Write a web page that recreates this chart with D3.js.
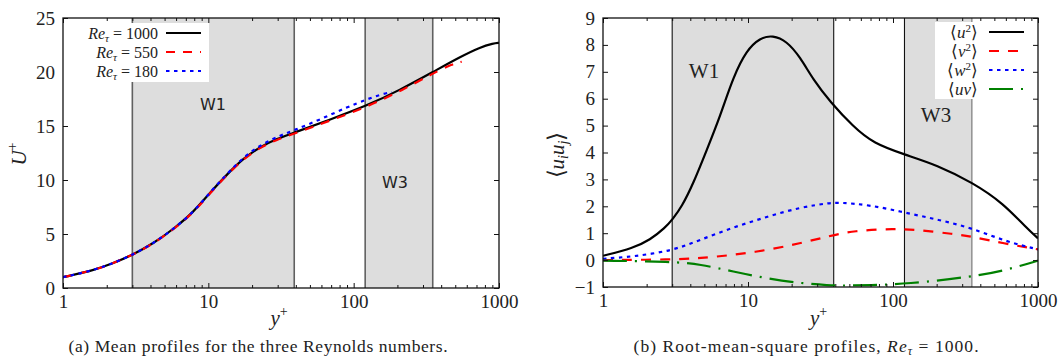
<!DOCTYPE html>
<html><head><meta charset="utf-8">
<script src="https://cdn.jsdelivr.net/npm/d3@7"></script>
<style>
body{margin:0;background:#fff}
svg{display:block}
text{font-family:"Liberation Serif","Times New Roman",serif;fill:#222}
</style>
</head><body>
<svg id="c" width="1062" height="357"></svg>
<script>
// ---------- data ----------
const xTickValues = [1, 10, 100, 1000];
const xTickLabels = ["1", "10", "100", "1000"];
const yTicksA = [0, 5, 10, 15, 20, 25];
const yTicksB = [-1, 0, 1, 2, 3, 4, 5, 6, 7, 8, 9];

const bandW1 = [3, 39];
const bandW3 = [120, 350];

// (a) mean profiles
const yPlus1000 = [1, 1.62, 2.22, 3, 4.18, 5.74, 7.88, 10.3, 13.4, 17.4, 22.7, 29.6, 39.3, 68.8, 122, 208, 354, 540, 741, 916, 1000];
const U1000     = [1.0, 1.63, 2.3, 3.06, 4.12, 5.45, 7.0, 8.85, 10.5, 12.0, 13.05, 13.82, 14.4, 15.6, 16.85, 18.33, 20.03, 21.4, 22.3, 22.65, 22.7];
const yPlus550  = [1, 1.62, 2.22, 3, 4.18, 5.74, 7.88, 10.3, 13.4, 17.4, 22.7, 29.6, 39.3, 68.8, 122, 208, 354, 480, 554];
const U550      = [1.0, 1.63, 2.3, 3.06, 4.1, 5.42, 6.96, 8.8, 10.45, 11.95, 13.0, 13.74, 14.3, 15.5, 16.75, 18.2, 19.9, 20.75, 20.95];
const yPlus180  = [1, 1.62, 2.22, 3, 4.18, 5.74, 7.88, 10.3, 13.4, 17.4, 22.7, 29.6, 39.3, 58.7, 89.7, 122, 152, 182];
const U180      = [1.0, 1.63, 2.3, 3.06, 4.12, 5.45, 7.0, 8.88, 10.55, 12.1, 13.2, 14.0, 14.63, 15.6, 16.73, 17.45, 17.9, 18.15];

// (b) Reynolds stresses, Re_tau = 1000
const yPlusUU = [1, 1.62, 2.11, 2.68, 3.02, 3.49, 4.2, 5.19, 6.41, 7.92, 9.8, 12.1, 14.8, 18.5, 22.8, 28.2, 36.8, 53.2, 73.1, 122, 200, 355, 577, 836, 1000];
const uu      = [0.16, 0.45, 0.75, 1.2, 1.52, 1.98, 2.85, 4.09, 5.33, 6.82, 7.81, 8.26, 8.36, 8.14, 7.56, 6.70, 5.89, 4.96, 4.34, 3.91, 3.54, 2.88, 2.11, 1.18, 0.81];
const yPlusVV = [1, 3, 4.67, 7.92, 13.5, 22.8, 36.8, 53, 103, 153, 261, 355, 577, 1000];
const vv      = [0.0, 0.02, 0.07, 0.19, 0.37, 0.62, 0.9, 1.09, 1.17, 1.12, 0.97, 0.87, 0.62, 0.40];
const yPlusWW = [1, 1.62, 3.02, 4.67, 7.92, 13.5, 22.8, 36.8, 43, 69.4, 122, 211, 355, 608, 1000];
const ww      = [0.05, 0.13, 0.35, 0.75, 1.22, 1.61, 1.96, 2.13, 2.14, 2.05, 1.76, 1.49, 1.18, 0.68, 0.40];
const yPlusUV = [1, 3, 4.67, 7.92, 13.5, 22.8, 36.8, 43, 70, 122, 355, 608, 1000];
const uv      = [-0.02, -0.06, -0.15, -0.43, -0.68, -0.86, -0.94, -0.95, -0.93, -0.89, -0.62, -0.37, -0.02];

// ---------- drawing ----------
const svg = d3.select("#c");
const zip = (xs, ys) => xs.map((x, i) => [x, ys[i]]);
const minorTicks = [];
[1, 10, 100].forEach(d => { for (let k = 2; k <= 9; k++) minorTicks.push(d * k); });

function addParts(t, parts) {
  parts.forEach(p => {
    const ts = t.append("tspan").text(p.t);
    if (p.it) ts.style("font-style", "italic");
    if (p.dy) ts.attr("dy", p.dy);
    if (p.fs) ts.style("font-size", p.fs + "px");
  });
}

function drawPanel(o) {
  const x = d3.scaleLog().domain([1, 1000]).range([o.x0, o.x1]);
  const y = d3.scaleLinear().domain(o.yDomain).range([o.y1, o.y0]);
  const g = svg.append("g");
  const clipId = "clip" + o.id;
  svg.append("clipPath").attr("id", clipId).append("rect")
    .attr("x", o.x0).attr("y", o.y0).attr("width", o.x1 - o.x0).attr("height", o.y1 - o.y0);

  // bands
  [bandW1, bandW3].forEach((b, i) => {
    g.append("rect").attr("x", x(b[0])).attr("y", o.y0)
      .attr("width", x(b[1]) - x(b[0])).attr("height", o.y1 - o.y0)
      .attr("fill", "#dddddd");
    b.forEach((v, j) => {
      g.append("line").attr("x1", x(v)).attr("x2", x(v)).attr("y1", o.y0).attr("y2", o.y1)
        .attr("stroke", o.edgeColor(i, j)).attr("stroke-width", o.edgeWidth);
    });
  });
  o.bandLabels.forEach(l => {
    g.append("text").attr("x", l.x).attr("y", l.y).attr("text-anchor", "middle")
      .style("font-family", l.font).style("font-size", l.size + "px").text(l.t);
  });

  // curves
  const line = d3.line().x(d => x(d[0])).y(d => y(d[1])).curve(d3.curveBasis);
  const cg = g.append("g").attr("clip-path", `url(#${clipId})`);
  o.series.forEach(s => {
    cg.append("path").attr("d", line(zip(s.x, s.y))).attr("fill", "none")
      .attr("stroke", s.color).attr("stroke-width", s.w)
      .attr("stroke-dasharray", s.dash || null);
  });

  // axes
  const ax = (axis, tr) => {
    const a = g.append("g").attr("transform", tr).call(axis);
    a.attr("font-family", null).attr("font-size", null);
    a.select(".domain").remove();
    a.selectAll("line").attr("stroke", "#111");
    a.selectAll("text").style("font-size", "19px").attr("fill", "#222").style("font-family", '"Liberation Serif",serif');
    return a;
  };
  ax(d3.axisBottom(x).tickValues(xTickValues).tickFormat((d, i) => xTickLabels[i]).tickSize(-5).tickPadding(7), `translate(0,${o.y1})`);
  ax(d3.axisBottom(x).tickValues(minorTicks).tickFormat("").tickSize(-3), `translate(0,${o.y1})`);
  ax(d3.axisTop(x).tickValues(xTickValues).tickFormat("").tickSize(-5), `translate(0,${o.y0})`);
  ax(d3.axisTop(x).tickValues(minorTicks).tickFormat("").tickSize(-3), `translate(0,${o.y0})`);
  ax(d3.axisLeft(y).tickValues(o.yTicks).tickSize(-5).tickPadding(8), `translate(${o.x0},0)`);
  ax(d3.axisRight(y).tickValues(o.yTicks).tickFormat("").tickSize(-5), `translate(${o.x1},0)`);

  // legend
  const L = o.legend;
  g.append("rect").attr("x", L.box[0]).attr("y", L.box[1]).attr("width", L.box[2]).attr("height", L.box[3]).attr("fill", "#fff");
  L.rows.forEach((r, i) => {
    const yy = L.y0 + i * L.dy;
    const t = g.append("text").attr("x", L.textX).attr("y", yy + 6).attr("text-anchor", "end").style("font-size", L.size + "px");
    addParts(t, r.parts);
    g.append("line").attr("x1", L.lx0).attr("x2", L.lx1).attr("y1", yy).attr("y2", yy)
      .attr("stroke", o.series[i].color).attr("stroke-width", o.series[i].w)
      .attr("stroke-dasharray", o.series[i].dash || null);
  });

  // frame
  g.append("rect").attr("x", o.x0).attr("y", o.y0).attr("width", o.x1 - o.x0).attr("height", o.y1 - o.y0)
    .attr("fill", "none").attr("stroke", "#111").attr("stroke-width", 1.3);

  // x label
  const xl = g.append("text").attr("x", (o.x0 + o.x1) / 2 - 2).attr("y", 325).attr("text-anchor", "middle").style("font-size", "21px");
  addParts(xl, [{ t: "y", it: 1 }, { t: "+", dy: -9, fs: 14 }]);

  // y label
  const yl = g.append("text").attr("transform", `translate(${o.ylx},${o.yly}) rotate(-90)`).attr("text-anchor", "middle").style("font-size", "21px");
  addParts(yl, o.yLabel);

  // caption
  const cap = g.append("text").attr("x", o.capX).attr("y", 352).attr("text-anchor", "middle").style("font-size", "17.5px")
    .attr("textLength", o.capW).attr("lengthAdjust", "spacing");
  addParts(cap, o.caption);
}

const reRow = v => ({ parts: [{ t: "Re", it: 1 }, { t: "τ", it: 1, dy: 3, fs: 11 }, { t: " = " + v, dy: -3 }] });

drawPanel({
  id: "a", x0: 63, x1: 499, y0: 18, y1: 288, yDomain: [0, 25], yTicks: yTicksA,
  edgeColor: () => "#606060", edgeWidth: 1.6,
  bandLabels: [
    { t: "W1", x: 213, y: 110, font: '"DejaVu Sans",sans-serif', size: 16 },
    { t: "W3", x: 395, y: 188, font: '"DejaVu Sans",sans-serif', size: 16 }
  ],
  series: [
    { x: yPlus1000, y: U1000, color: "#000", w: 2.2 },
    { x: yPlus550, y: U550, color: "#ff0000", w: 2.2, dash: "9,8" },
    { x: yPlus180, y: U180, color: "#0000ff", w: 2.2, dash: "3.5,4.5" }
  ],
  legend: {
    box: [62, 23, 147, 59], textX: 158, y0: 33, dy: 19, size: 16, lx0: 166, lx1: 201,
    rows: [reRow("1000"), reRow("550"), reRow("180")]
  },
  ylx: 26, yly: 154,
  yLabel: [{ t: "U", it: 1 }, { t: "+", dy: -9, fs: 14 }],
  capX: 258, capW: 379,
  caption: [{ t: "(a) Mean profiles for the three Reynolds numbers." }]
});

const brRow = (a, b) => ({ parts: [{ t: "⟨", fs: 17 }, { t: a, it: 1 }, ...(b ? [{ t: b, dy: -6, fs: 11 }, { t: "⟩", dy: 6, fs: 17 }] : [{ t: "⟩", fs: 17 }])] });

drawPanel({
  id: "b", x0: 603, x1: 1038, y0: 18, y1: 287, yDomain: [-1, 9], yTicks: yTicksB,
  edgeColor: (i, j) => (i === 1 && j === 1) ? "#707070" : "#111", edgeWidth: 1.1,
  bandLabels: [
    { t: "W1", x: 704, y: 78, font: '"Liberation Serif",serif', size: 21 },
    { t: "W3", x: 936, y: 122, font: '"Liberation Serif",serif', size: 21 }
  ],
  series: [
    { x: yPlusUU, y: uu, color: "#000", w: 2.2 },
    { x: yPlusVV, y: vv, color: "#ff0000", w: 2.2, dash: "10,9" },
    { x: yPlusWW, y: ww, color: "#0000ff", w: 2.2, dash: "3.5,4.5" },
    { x: yPlusUV, y: uv, color: "#008000", w: 2.2, dash: "24,8,2,8" }
  ],
  legend: {
    box: [935, 22, 70, 77], textX: 978, y0: 32, dy: 19, size: 17, lx0: 989, lx1: 1024,
    rows: [brRow("u", "2"), brRow("v", "2"), brRow("w", "2"), brRow("uv", null)]
  },
  ylx: 564, yly: 155,
  yLabel: [{ t: "⟨", fs: 23 }, { t: "u", it: 1 }, { t: "i", it: 1, dy: 4, fs: 14 }, { t: "u", it: 1, dy: -4 }, { t: "j", it: 1, dy: 4, fs: 14 }, { t: "⟩", dy: -4, fs: 23 }],
  capX: 806, capW: 345,
  caption: [{ t: "(b) Root-mean-square profiles, " }, { t: "Re", it: 1 }, { t: "τ", it: 1, dy: 3, fs: 12 }, { t: " = 1000.", dy: -3 }]
});
</script>
</body></html>
